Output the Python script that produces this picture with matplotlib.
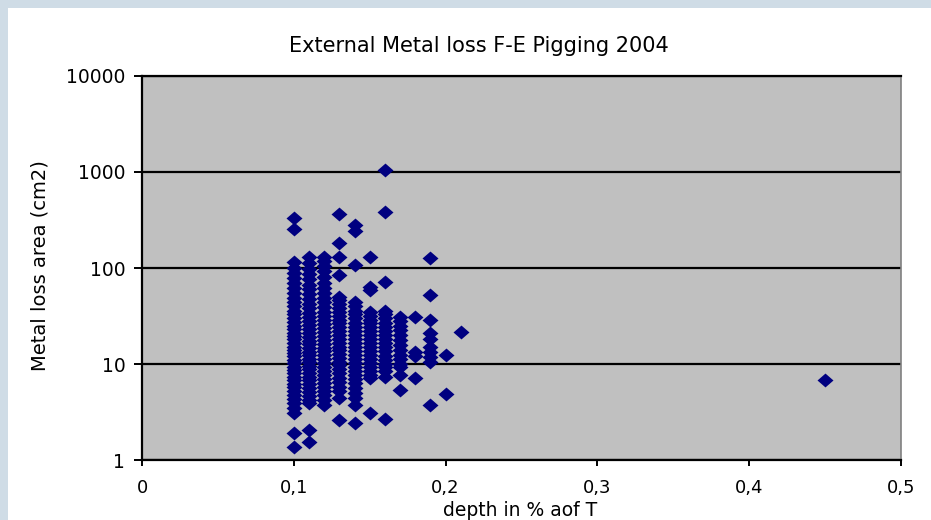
import matplotlib.pyplot as plt
from matplotlib.patches import Rectangle
from matplotlib.ticker import FixedLocator, FuncFormatter

# depth columns (fraction of T) and metal loss areas (cm2)
depth_010 = [332, 255, 115, 100, 88, 78, 70, 62, 55, 49, 44, 40, 36, 33, 30, 27.5, 25, 23, 21,
             19.5, 18, 16.5, 15.2, 14, 13, 12, 11, 10.2, 9.4, 8.7, 8, 7.4, 6.8, 6.2, 5.7, 5.2,
             4.7, 4.3, 3.9, 3.5, 3.1, 1.9, 1.35]
depth_011 = [130, 112, 98, 86, 76, 67, 60, 53, 47, 42, 38, 34, 31, 28, 25.5, 23, 21, 19, 17.5,
             16, 14.6, 13.4, 12.3, 11.3, 10.4, 9.6, 8.8, 8.1, 7.4, 6.8, 6.2, 5.6, 5.1, 4.6, 4.2,
             3.9, 2.05, 1.55]
depth_012 = [130, 118, 105, 92, 80, 70, 62, 55, 49, 44, 39, 35, 32, 29, 26, 23.5, 21.5, 19.5,
             17.8, 16.2, 14.8, 13.5, 12.3, 11.2, 10.2, 9.3, 8.5, 7.7, 7, 6.3, 5.7, 5.2, 4.7, 4.2,
             3.7]
depth_013 = [365, 182, 130, 84, 50, 46, 42, 38, 35, 32, 29, 26.5, 24, 22, 20, 18.3, 16.7, 15.2,
             13.9, 12.7, 11.6, 10.6, 9.7, 8.8, 8, 7.2, 6.5, 5.8, 5.2, 4.4, 2.6]
depth_014 = [280, 243, 107, 44, 40, 36, 33, 30, 27, 24.5, 22, 20, 18.2, 16.5, 15, 13.6, 12.4,
             11.3, 10.3, 9.4, 8.5, 7.7, 7, 6.3, 5.6, 5, 4.4, 3.7, 2.4]
depth_015 = [130, 63, 59, 35, 32, 29, 26.5, 24, 22, 20, 18, 16.4, 15, 13.6, 12.4, 11.3, 10.3,
             9.4, 8.5, 7.7, 7.1, 3.1]
depth_016 = [1050, 383, 71, 36, 33, 30, 27, 24.5, 22, 20, 18, 16.4, 14.9, 13.5, 12.2, 11, 10,
             9.2, 8.4, 7.3, 2.7]
depth_017 = [31, 28, 25, 22.5, 20, 17.7, 15.8, 14, 12.5, 11.2, 10, 9.2, 7.7, 5.3]
depth_018 = [31, 13.3, 12, 7.1]
depth_019 = [127, 52, 29, 21, 18, 15, 13.2, 11.8, 10.4, 3.7]
depth_020 = [12.4, 4.9]
depth_021 = [21.6]
depth_045 = [6.8]

columns = [(0.10, depth_010), (0.11, depth_011), (0.12, depth_012), (0.13, depth_013),
           (0.14, depth_014), (0.15, depth_015), (0.16, depth_016), (0.17, depth_017),
           (0.18, depth_018), (0.19, depth_019), (0.20, depth_020), (0.21, depth_021),
           (0.45, depth_045)]

x_ticks = [0, 0.1, 0.2, 0.3, 0.4, 0.5]
y_ticks = [1, 10, 100, 1000, 10000]

plt.rcParams['font.family'] = ['DejaVu Sans']

fig = plt.figure(figsize=(9.31, 5.20), dpi=100, facecolor='#cfdce6')
fig.patches.append(Rectangle((8 / 931, 0), 1, 512 / 520, transform=fig.transFigure,
                             facecolor='white', edgecolor='none', zorder=-5))

ax = fig.add_axes([142 / 931, 60 / 520, 759 / 931, 384 / 520])
ax.set_facecolor('#c0c0c0')

xs = [x for x, vals in columns for _ in vals]
ys = [v for _, vals in columns for v in vals]

diamond = [(-1, 0), (0, 0.87), (1, 0), (0, -0.87), (-1, 0)]
ax.plot(xs, ys, linestyle='none', marker=diamond, markersize=11.5,
        color='#000080', markeredgewidth=0, zorder=3)

ax.set_yscale('log')
ax.set_xlim(0, 0.5)
ax.set_ylim(1, 10000)
ax.xaxis.set_major_locator(FixedLocator(x_ticks))
ax.yaxis.set_major_locator(FixedLocator(y_ticks))
ax.yaxis.set_minor_locator(FixedLocator([]))
ax.xaxis.set_major_formatter(FuncFormatter(lambda v, p: '0' if v == 0 else f'{v:.1f}'.replace('.', ',')))
ax.yaxis.set_major_formatter(FuncFormatter(lambda v, p: f'{int(round(v))}'))

ax.grid(axis='y', color='black', linewidth=1.6)
ax.set_axisbelow(True)
for side in ['left', 'bottom', 'top']:
    ax.spines[side].set_color('black')
    ax.spines[side].set_linewidth(1.6)
ax.spines['right'].set_color('#808080')
ax.spines['right'].set_linewidth(1.2)

ax.tick_params(axis='y', direction='out', length=6, width=1.4, pad=6, labelsize=13.5)
ax.tick_params(axis='x', direction='out', length=4, width=1.4, pad=10, labelsize=13)

fig.text(479 / 931, 1 - 46 / 520, 'External Metal loss F-E Pigging 2004',
         ha='center', va='center', fontsize=15)
fig.text(520 / 931, 1 - 511 / 520, 'depth in % aof T', ha='center', va='center', fontsize=13.5)
fig.text(40 / 931, 1 - 266 / 520, 'Metal loss area (cm2)', ha='center', va='center',
         rotation=90, fontsize=14)

fig.savefig('out.png', dpi=100, facecolor=fig.get_facecolor())
